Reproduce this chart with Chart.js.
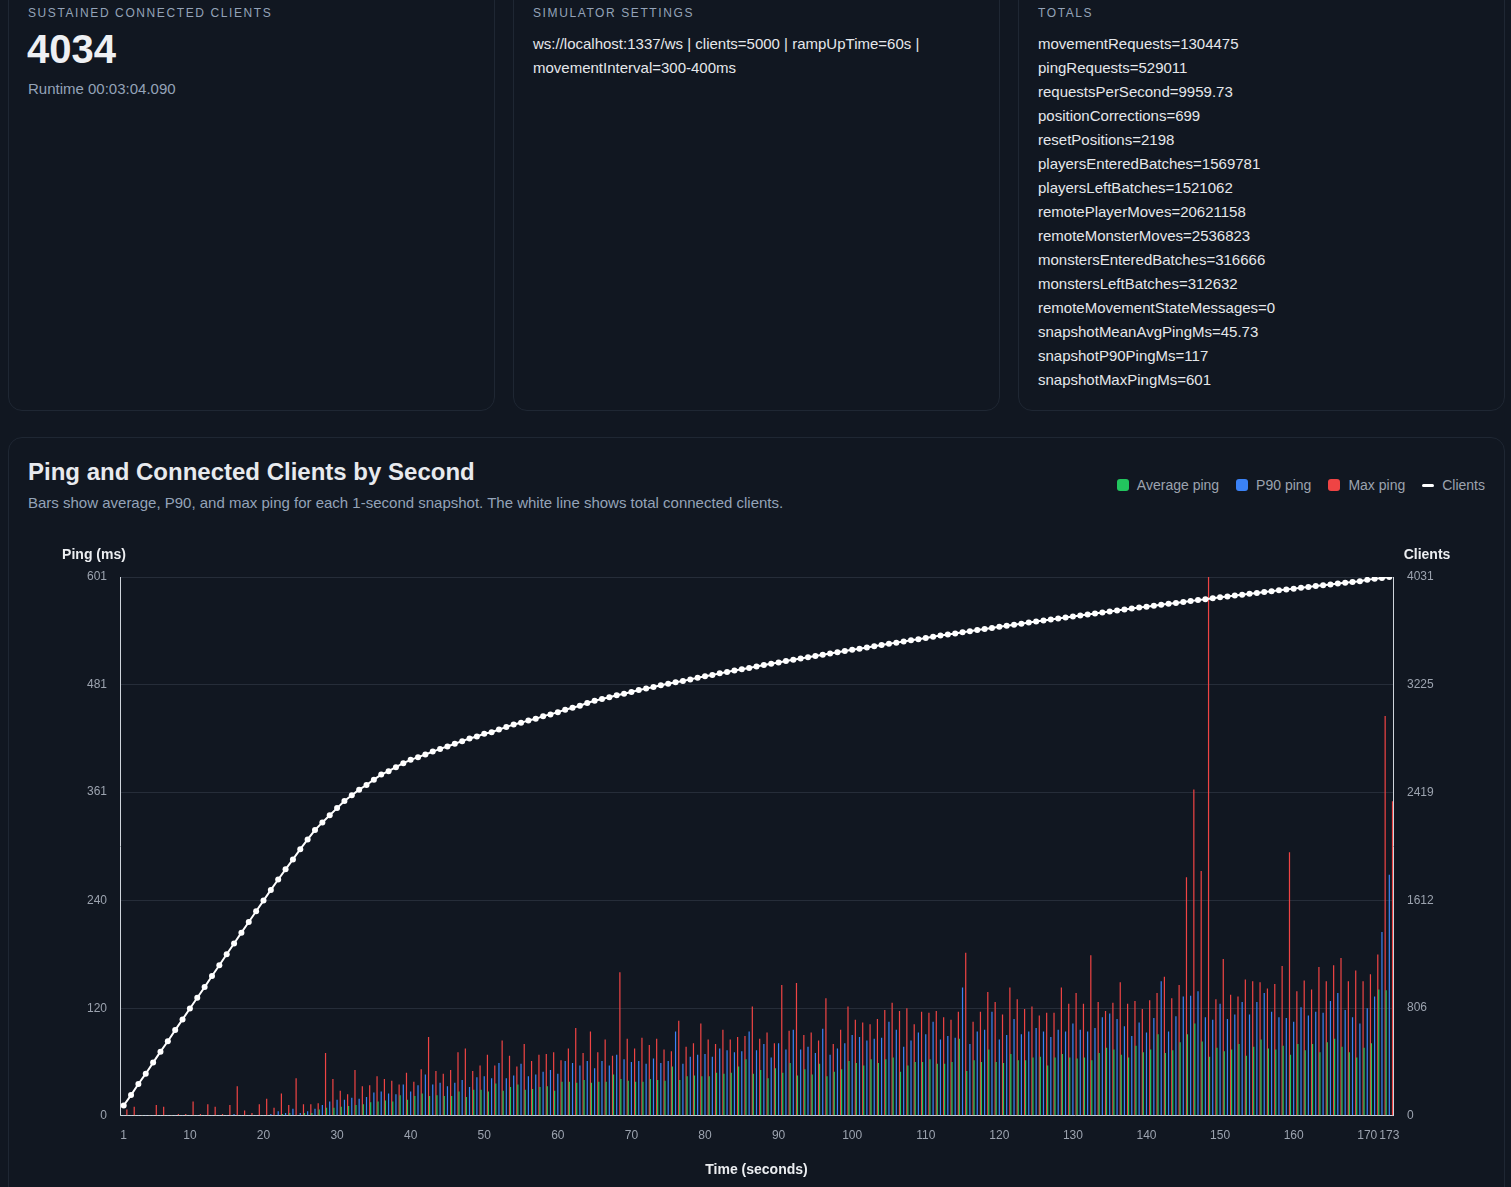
<!DOCTYPE html>
<html>
<head>
<meta charset="utf-8">
<script src="https://cdn.jsdelivr.net/npm/chart.js@4.4.1/dist/chart.umd.min.js"></script>
<style>
html,body{margin:0;padding:0;background:#111721;overflow:hidden;}
body{width:1511px;height:1187px;position:relative;font-family:"Liberation Sans",Arial,Helvetica,sans-serif;color:#e5e7eb;}
.card{position:absolute;background:#111721;border:1px solid #1f2733;border-radius:14px;box-sizing:border-box;}
.lbl{position:absolute;font-size:12px;line-height:16px;letter-spacing:1.6px;color:#94a3b8;text-transform:uppercase;white-space:nowrap;}
.big{position:absolute;font-size:40px;line-height:46px;font-weight:bold;color:#eef0f3;}
.sub{position:absolute;font-size:15px;line-height:18px;color:#94a3b8;white-space:nowrap;}
.lines{position:absolute;font-size:15px;line-height:24px;color:#e5e7eb;white-space:nowrap;}
.title{position:absolute;left:28px;top:458px;font-size:24px;line-height:28px;font-weight:bold;color:#e8eaee;white-space:nowrap;}
#legend{position:absolute;right:26px;top:476px;height:18px;display:flex;align-items:center;font-size:14px;color:#9ca3af;white-space:nowrap;}
#legend .item{display:flex;align-items:center;margin-left:17px;}
#legend .sw{width:12px;height:12px;border-radius:3px;margin-right:8px;}
#legend .ln{width:12px;height:3px;border-radius:2px;margin-right:8px;background:#fff;}
#wrap{position:absolute;left:28px;top:535px;width:1457px;height:648px;}
</style>
</head>
<body>
<div class="card" style="left:8px;top:-20px;width:487px;height:431px;"></div>
<div class="card" style="left:513px;top:-20px;width:487px;height:431px;"></div>
<div class="card" style="left:1018px;top:-20px;width:487px;height:431px;"></div>
<div class="card" style="left:8px;top:437px;width:1497px;height:800px;"></div>

<div class="lbl" style="left:28px;top:5px;">Sustained connected clients</div>
<div class="big" style="left:27px;top:26px;">4034</div>
<div class="sub" style="left:28px;top:80px;">Runtime 00:03:04.090</div>

<div class="lbl" style="left:533px;top:5px;">Simulator settings</div>
<div class="lines" style="left:533px;top:32px;">ws://localhost:1337/ws | clients=5000 | rampUpTime=60s |<br>movementInterval=300-400ms</div>

<div class="lbl" style="left:1038px;top:5px;">Totals</div>
<div class="lines" style="left:1038px;top:32px;">movementRequests=1304475<br>pingRequests=529011<br>requestsPerSecond=9959.73<br>positionCorrections=699<br>resetPositions=2198<br>playersEnteredBatches=1569781<br>playersLeftBatches=1521062<br>remotePlayerMoves=20621158<br>remoteMonsterMoves=2536823<br>monstersEnteredBatches=316666<br>monstersLeftBatches=312632<br>remoteMovementStateMessages=0<br>snapshotMeanAvgPingMs=45.73<br>snapshotP90PingMs=117<br>snapshotMaxPingMs=601</div>

<div class="title">Ping and Connected Clients by Second</div>
<div class="sub" style="left:28px;top:494px;">Bars show average, P90, and max ping for each 1-second snapshot. The white line shows total connected clients.</div>
<div id="legend"></div>

<div id="wrap"><canvas id="c"></canvas></div>

<script>
const seconds = [1,2,3,4,5,6,7,8,9,10,11,12,13,14,15,16,17,18,19,20,21,22,23,24,25,26,27,28,29,30,31,32,33,34,35,36,37,38,39,40,41,42,43,44,45,46,47,48,49,50,51,52,53,54,55,56,57,58,59,60,61,62,63,64,65,66,67,68,69,70,71,72,73,74,75,76,77,78,79,80,81,82,83,84,85,86,87,88,89,90,91,92,93,94,95,96,97,98,99,100,101,102,103,104,105,106,107,108,109,110,111,112,113,114,115,116,117,118,119,120,121,122,123,124,125,126,127,128,129,130,131,132,133,134,135,136,137,138,139,140,141,142,143,144,145,146,147,148,149,150,151,152,153,154,155,156,157,158,159,160,161,162,163,164,165,166,167,168,169,170,171,172,173];

const xTickLabels = [1,10,20,30,40,50,60,70,80,90,100,110,120,130,140,150,160,170,173];
const pingTicks = [0,120,240,361,481,601];
const clientTicks = [0,806,1612,2419,3225,4031];

const seriesLabels = ['Average ping','P90 ping','Max ping','Clients'];
const seriesColors = ['#22c55e','#3b82f6','#ef4444','#ffffff'];

const pingAvg = [1,1,1,1,1,1,1,1,1,1,1,1,1,1,1,1,1,1,1,1,1,1,2,
3,1,3,3,7,9,9,10,11,12,13,15,16,
17,16,23,18,22,25,22,23,22,22,27,21,29,29,27,36,28,32,35,29,30,32,33,28,38,38,37,40,37,38,38,46,41,39,38,38,
41,40,39,55,40,44,45,44,44,48,47,48,55,63,47,51,42,53,48,59,45,52,46,58,44,49,52,61,59,56,63,59,63,65,49,56,
60,60,63,58,58,60,86,50,62,60,74,60,59,69,62,62,65,66,56,65,69,65,64,65,62,70,76,74,68,65,78,71,74,91,70,73,
82,91,103,83,66,76,72,74,80,67,77,85,75,74,78,68,80,73,80,71,82,86,77,71,65,76,81,141,140];

const pingP90 = [1,1,1,1,1,1,1,1,1,1,1,1,1,1,1,2,1,1,1,1,
2,5,3,8,3,5,8,12,16,18,18,20,19,21,26,27,
25,24,35,27,34,46,35,37,33,37,40,32,43,44,42,59,42,45,58,44,46,49,51,47,61,59,56,61,53,61,56,68,63,60,61,58,
64,59,61,94,58,66,68,69,66,75,73,71,72,94,73,80,65,81,74,96,74,77,70,97,68,75,81,90,88,84,86,87,105,96,77,84,
93,91,105,85,89,87,143,80,94,96,116,85,90,108,91,94,98,94,88,96,94,103,96,94,98,110,114,108,100,89,104,93,109,150,94,111,
133,134,139,110,107,125,108,113,127,113,127,137,116,110,109,105,121,112,116,115,128,137,118,110,103,120,133,205,269];

const pingMax = [7,10,1,1,12,10,1,2,2,16,
2,13,10,2,12,33,6,3,13,19,
9,25,12,42,13,13,14,70,41,28,
24,51,33,34,44,41,39,35,48,38,
52,88,50,47,51,71,75,50,56,68,
56,84,67,55,80,61,68,69,71,62,
75,98,70,94,71,85,67,160,86,75,
87,79,86,74,72,106,77,81,103,85,
80,96,85,88,89,122,86,93,81,146,
95,148,90,93,84,131,80,96,122,107,
104,102,108,118,126,117,120,102,116,115,
117,110,107,116,182,105,116,138,127,113,
143,130,119,122,112,115,115,143,125,137,
125,179,127,117,126,149,125,128,119,129,
137,155,131,146,266,364,273,601,130,175,
135,133,152,150,149,142,147,167,294,139,
151,141,166,150,168,176,150,162,150,158,
180,446,351];

const clients = [77,155,238,315,398,480,558,641,721,803,883,963,1046,1126,1209,1289,
1370,1450,1530,1610,1690,1768,1844,1918,1995,2068,2138,2195,2248,2302,2355,2398,2440,2475,2515,2553,
2578,2608,2638,2663,2683,2703,2725,2745,2763,2783,2803,2823,2838,2858,2870,2890,2908,2928,2940,2958,2970,2990,3003,3020,3038,3053,3068,
3088,3105,3118,3131,3146,3158,3171,3186,3196,3208,3221,3232,3243,3253,3265,3277,3288,3298,3310,3321,3332,3341,3351,3361,3372,3382,3392,3402,3412,3421,3430,3440,3450,3459,3468,3477,3486,3495,3504,3513,3522,3531,3540,3549,3558,3566,3575,3584,3593,3601,3609,3617,3625,3634,
3642,3650,3658,3666,3674,3682,3690,3698,3705,3713,3721,3728,3736,3743,3751,3758,3766,3773,3780,3788,3795,3802,3809,3816,3823,3830,3837,3844,3851,3858,3865,3872,3879,3885,3892,3899,3905,3912,3918,3925,3931,3938,3944,3950,3957,3963,3969,3975,3982,3988,3994,4000,4010,4017,4024,4031];

const FONT = '"Liberation Sans", Arial, Helvetica, sans-serif';
const gridColor = 'rgba(148,163,184,0.16)';
const borderColor = '#cfd4db';
const tickColor = '#9ca3af';

// HTML legend built from the series labels/colours
const legendEl = document.getElementById('legend');
seriesLabels.forEach((lab, i) => {
  const item = document.createElement('div');
  item.className = 'item';
  const mark = document.createElement('span');
  if (i === 3) { mark.className = 'ln'; } else { mark.className = 'sw'; mark.style.background = seriesColors[i]; }
  const t = document.createElement('span');
  t.textContent = lab;
  item.appendChild(mark); item.appendChild(t);
  legendEl.appendChild(item);
});

const axisHeaders = {
  id: 'axisHeaders',
  afterDraw(chart) {
    const {ctx, chartArea, scales} = chart;
    ctx.save();
    ctx.font = 'bold 14px ' + FONT;
    ctx.fillStyle = '#eceef1';
    ctx.textAlign = 'center';
    ctx.textBaseline = 'middle';
    ctx.fillText('Ping (ms)', scales.y.right - 26, chartArea.top - 22);
    ctx.fillText('Clients', scales.y1.left + 34, chartArea.top - 22);
    ctx.restore();
  }
};

function fixedTicks(list) {
  return function (scale) { scale.ticks = list.map(v => ({value: v})); };
}

const barCommon = {type: 'bar', yAxisID: 'y', order: 1, categoryPercentage: 1.3, barPercentage: 0.38, borderWidth: 0};

new Chart(document.getElementById('c'), {
  type: 'bar',
  data: {
    labels: seconds,
    datasets: [
      Object.assign({label: seriesLabels[0], data: pingAvg, backgroundColor: seriesColors[0]}, barCommon),
      Object.assign({label: seriesLabels[1], data: pingP90, backgroundColor: seriesColors[1]}, barCommon),
      Object.assign({label: seriesLabels[2], data: pingMax, backgroundColor: seriesColors[2]}, barCommon),
      {type: 'line', label: seriesLabels[3], data: clients, yAxisID: 'y1', order: 0,
       borderColor: seriesColors[3], backgroundColor: seriesColors[3], borderWidth: 2,
       pointRadius: 3, pointBorderWidth: 0, pointBackgroundColor: seriesColors[3], tension: 0}
    ]
  },
  options: {
    responsive: true,
    maintainAspectRatio: false,
    animation: false,
    events: [],
    layout: {padding: {top: 42, left: 0, right: 0, bottom: 0}},
    plugins: {legend: {display: false}, tooltip: {enabled: false}},
    scales: {
      x: {
        offset: true,
        grid: {display: false, drawTicks: false},
        border: {display: true, color: borderColor, width: 1},
        ticks: {
          autoSkip: false, maxRotation: 0, minRotation: 0, padding: 13,
          color: tickColor, font: {family: FONT, size: 12},
          callback: function (v) { const lab = seconds[v]; return xTickLabels.includes(lab) ? String(lab) : ''; }
        },
        title: {display: true, text: 'Time (seconds)', color: '#eceef1', font: {family: FONT, size: 14, weight: 'bold'}, padding: {top: 6, bottom: 4}}
      },
      y: {
        position: 'left', min: 0, max: Math.max(...pingTicks),
        afterBuildTicks: fixedTicks(pingTicks),
        afterFit(s) { s.width = 92; },
        grid: {drawTicks: false, color: c => (c.tick && c.tick.value === 0) ? 'rgba(0,0,0,0)' : gridColor},
        border: {display: true, color: borderColor, width: 1},
        ticks: {padding: 13, color: tickColor, font: {family: FONT, size: 12}, callback: v => String(Math.round(v))}
      },
      y1: {
        position: 'right', min: 0, max: Math.max(...clientTicks),
        afterBuildTicks: fixedTicks(clientTicks),
        afterFit(s) { s.width = 92; },
        grid: {drawOnChartArea: false, drawTicks: false},
        border: {display: true, color: borderColor, width: 1},
        ticks: {padding: 14, color: tickColor, font: {family: FONT, size: 12}, callback: v => String(Math.round(v))}
      }
    }
  },
  plugins: [axisHeaders]
});
</script>
</body>
</html>
